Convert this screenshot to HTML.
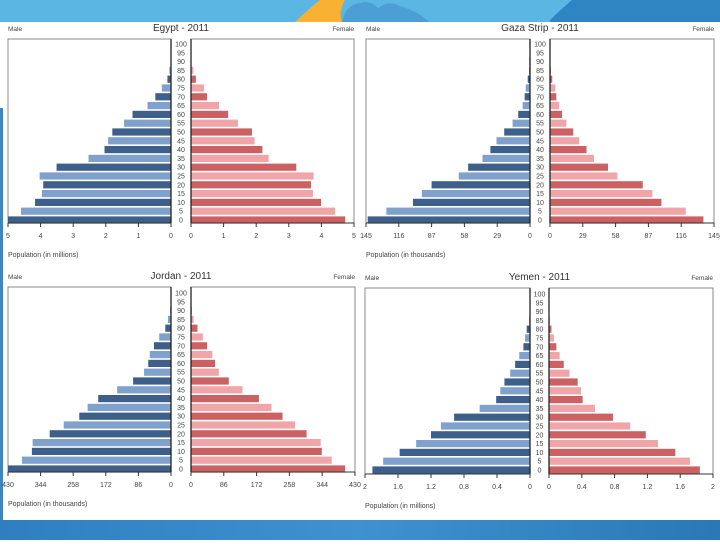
<!DOCTYPE html>
<html><head><meta charset="utf-8"><style>
body{margin:0;width:720px;height:540px;overflow:hidden;background:#fff;font-family:"Liberation Sans",sans-serif}
svg text{font-family:"Liberation Sans","DejaVu Sans",sans-serif}
</style></head><body>
<svg id="s" width="720" height="540" xmlns="http://www.w3.org/2000/svg">
<defs>
<linearGradient id="bb" x1="0" x2="1" y1="0" y2="0"><stop offset="0" stop-color="#2f7fc0"/><stop offset="0.5" stop-color="#3d92cf"/><stop offset="1" stop-color="#2a78b6"/></linearGradient>
</defs>
<g>
<rect x="0" y="0" width="720" height="22" fill="#5cb6e4"/>
<rect x="550" y="0" width="170" height="22" fill="#2f84c2"/>
<path d="M295 22 Q310 8 320 0 L345 0 Q338 12 342 22 Z" fill="#f8b132"/>
<path d="M342 22 Q345 5 360 3 Q370 0 378 8 Q390 0 400 6 Q415 10 430 22 Z" fill="#4c9fd5"/>
<path d="M548 22 Q560 10 572 0 L550 0 Z" fill="#5cb6e4"/>
</g>
<rect x="0" y="520" width="720" height="20" fill="url(#bb)"/>
<rect x="0" y="108" width="3" height="412" fill="#3d86c0"/>
</svg>
<script>
const ages=["0","5","10","15","20","25","30","35","40","45","50","55","60","65","70","75","80","85","90","95","100"];
const egyptMale=[5.0,4.6,4.17,3.96,3.92,4.03,3.51,2.53,2.04,1.93,1.8,1.44,1.18,0.72,0.48,0.28,0.11,0.05,0.01,0,0];
const egyptFemale=[4.73,4.42,3.99,3.74,3.68,3.76,3.23,2.38,2.19,1.95,1.87,1.44,1.14,0.86,0.49,0.4,0.15,0.07,0.01,0,0];
const egyptTicks=["5","4","3","2","1","0"];
const gazaMale=[143.5,127,103.5,95.6,87,63,54.7,42,35,29.6,22.8,15.4,10.4,6.5,4.7,3.8,2,0.9,0.6,0.2,0.5];
const gazaFemale=[135.6,120,98.5,90.5,82,59.6,51.3,38.9,32.3,25.8,20.5,14.5,10.7,8,5.6,4.7,2,0.9,0.3,0,0];
const gazaTicks=["145","116","87","58","29","0"];
const jordanMale=[430,393,367,365,320,283,242,220,192,142,100,71,60,56,45,31,15,8,2,0.5,0];
const jordanFemale=[404,369,343,340,303,273,240,211,178,135,99,73,63,56,42,31,17,7,2,0,0];
const jordanTicks=["430","344","258","172","86","0"];
const yemenMale=[1.91,1.78,1.58,1.38,1.2,1.08,0.92,0.61,0.41,0.36,0.31,0.24,0.18,0.13,0.08,0.06,0.04,0.01,0.005,0,0];
const yemenFemale=[1.84,1.72,1.54,1.33,1.18,0.99,0.78,0.56,0.41,0.39,0.35,0.25,0.18,0.13,0.09,0.06,0.03,0.01,0,0,0];
const yemenTicks=["2","1.6","1.2","0.8","0.4","0"];
const panels=[
 {key:"egypt",title:"Egypt - 2011",unit:"Population (in millions)",male:egyptMale,female:egyptFemale,ticks:egyptTicks,max:5,lx0:8,lx1:171,rx0:191,rx1:354,top:39,bot:223,y0:220,y100:44},
 {key:"gaza",title:"Gaza Strip - 2011",unit:"Population (in thousands)",male:gazaMale,female:gazaFemale,ticks:gazaTicks,max:145,lx0:366,lx1:530,rx0:550,rx1:714,top:39,bot:223,y0:220,y100:44},
 {key:"jordan",title:"Jordan - 2011",unit:"Population (in thousands)",male:jordanMale,female:jordanFemale,ticks:jordanTicks,max:430,lx0:8,lx1:171,rx0:191,rx1:355,top:287,bot:472,y0:469,y100:293},
 {key:"yemen",title:"Yemen - 2011",unit:"Population (in millions)",male:yemenMale,female:yemenFemale,ticks:yemenTicks,max:2,lx0:365,lx1:530,rx0:549,rx1:713,top:288,bot:474,y0:470,y100:294}
];
const NS="http://www.w3.org/2000/svg";
const svg=document.getElementById("s");
function mk(tag,attrs,parent,txt){const e=document.createElementNS(NS,tag);for(const k in attrs)e.setAttribute(k,attrs[k]);if(txt!==undefined)e.textContent=txt;parent.appendChild(e);return e;}
panels.forEach(p=>{
 const g=mk("g",{},svg);
 
 
 const mid=(p.lx1+p.rx0)/2;
 const xm=v=>p.lx1-(v/p.max)*(p.lx1-p.lx0);
 const xf=v=>p.rx0+(v/p.max)*(p.rx1-p.rx0);
 const ya=i=>p.y0+(p.y100-p.y0)*i/(ages.length-1);
 const t=mk("text",{x:mid,y:p.top-8,"text-anchor":"middle","font-size":"10",fill:"#333"},g,p.title);
 
 
 const ml=mk("text",{x:p.lx0,y:p.top-8,"font-size":"6.5",fill:"#444"},g,"Male");
 
 
 const fl=mk("text",{x:p.rx1,y:p.top-8,"text-anchor":"end","font-size":"6.5",fill:"#444"},g,"Female");
 
 
 const fr1=mk("rect",{x:p.lx0,y:p.top,width:p.lx1-p.lx0,height:p.bot-p.top,fill:"none",stroke:"#8a8a8a","stroke-width":"1"},g);
 
 
 const fr2=mk("rect",{x:p.rx0,y:p.top,width:p.rx1-p.rx0,height:p.bot-p.top,fill:"none",stroke:"#8a8a8a","stroke-width":"1"},g);
 
 
 ages.forEach((a,i)=>{
  const y=ya(i), h=7.2, dark=i%2===0;
  const bm=mk("rect",{x:xm(p.male[i]),y:y-h/2,width:xm(0)-xm(p.male[i]),height:h,fill:dark?"#3e5f89":"#7fa1cc"},g);
  
  
  const bf=mk("rect",{x:xf(0),y:y-h/2,width:xf(p.female[i])-xf(0),height:h,fill:dark?"#cc6163":"#f0a5a8"},g);
  
  
  const al=mk("text",{x:mid,y:y+2.5,"text-anchor":"middle","font-size":"7",fill:"#444"},g,a);
  
  
 });
 mk("line",{x1:p.lx1,y1:p.top,x2:p.lx1,y2:p.bot,stroke:"#222","stroke-width":"1.3"},g);
 mk("line",{x1:p.rx0,y1:p.top,x2:p.rx0,y2:p.bot,stroke:"#222","stroke-width":"1.3"},g);
 mk("line",{x1:p.lx0,y1:p.bot,x2:p.lx1,y2:p.bot,stroke:"#333","stroke-width":"1"},g);
 mk("line",{x1:p.rx0,y1:p.bot,x2:p.rx1,y2:p.bot,stroke:"#333","stroke-width":"1"},g);
 const n=p.ticks.length-1;
 p.ticks.forEach((tk,i)=>{
  const v=p.max*(n-i)/n;
  const x1=xm(v), x2=xf(v);
  mk("line",{x1:x1,y1:p.bot,x2:x1,y2:p.bot+4,stroke:"#333"},g);
  mk("line",{x1:x2,y1:p.bot,x2:x2,y2:p.bot+4,stroke:"#333"},g);
  const l1=mk("text",{x:x1,y:p.bot+15,"text-anchor":"middle","font-size":"7",fill:"#444"},g,tk);
  
  
  const l2=mk("text",{x:x2,y:p.bot+15,"text-anchor":"middle","font-size":"7",fill:"#444"},g,tk);
  
  
 });
 const ut=mk("text",{x:p.lx0,y:p.bot+34,"font-size":"7",fill:"#444"},g,p.unit);
 
 
});
</script>
</body></html>
